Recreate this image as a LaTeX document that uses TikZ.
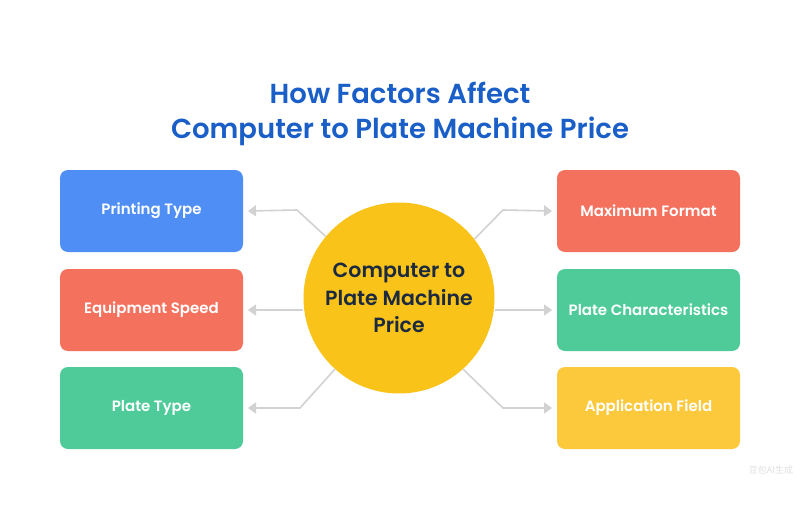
\documentclass[tikz,border=0pt]{standalone}
\usepackage{fontspec}
\setmainfont{Poppins}[BoldFont={* SemiBold}]
\newfontfamily\cjk{Noto Sans CJK SC}
\usetikzlibrary{arrows.meta}
\definecolor{titleblue}{HTML}{1A5FC8}
\definecolor{cblue}{HTML}{4F8FF5}
\definecolor{cred}{HTML}{F4715E}
\definecolor{cgreen}{HTML}{4FCB9A}
\definecolor{cyellow}{HTML}{FCC93C}
\definecolor{circ}{HTML}{F9C31A}
\definecolor{navy}{HTML}{1C2A3F}
\definecolor{conn}{HTML}{D2D2D2}
\tikzset{
  factor/.style={rounded corners=8pt, minimum width=183pt, minimum height=82pt,
    text=white, font=\bfseries\fontsize{15}{17}\selectfont, inner sep=0pt},
  link/.style={draw=conn, line width=1.6pt, -{Triangle[length=8pt,width=11pt]}},
}
\begin{document}
\begin{tikzpicture}[x=1pt,y=-1pt]
\path[use as bounding box, fill=white] (0,0) rectangle (800,530);
\node[text=titleblue, font=\bfseries\fontsize{27.5}{35}\selectfont, align=center] (title) at (400,114)
  {How Factors Affect\\Computer to Plate Machine Price};
\node[factor, fill=cblue] (pt) at (151.5,211) {Printing Type};
\node[factor, fill=cred] (es) at (151.5,310) {Equipment Speed};
\node[factor, fill=cgreen] (pl) at (151.5,408) {Plate Type};
\node[factor, fill=cred] (mf) at (648.5,211) {Maximum Format};
\node[factor, fill=cgreen] (pc) at (648.5,310) {Plate Characteristics};
\node[factor, fill=cyellow] (af) at (648.5,408) {Application Field};
\node[circle, fill=circ, minimum size=191pt, inner sep=0pt, text=navy, align=center,
  font=\bfseries\fontsize{20.5}{27.5}\selectfont] (c) at (399,298) {Computer to\\Plate Machine\\Price};
\coordinate (e1) at (297,210);
\coordinate (e2) at (300,408);
\coordinate (e3) at (503,210);
\coordinate (e4) at (503,408);
\draw[link] (c.140) -- (e1) -- (pt.east -| 248,0);
\draw[link] (c.west |- es.east) -- (es.east -| 248,0);
\draw[link] (c.228) -- (e2) -- (pl.east -| 248,0);
\draw[link] (c.38) -- (e3) -- (mf.west -| 552,0);
\draw[link] (c.east |- pc.west) -- (pc.west -| 552,0);
\draw[link] (c.312) -- (e4) -- (af.west -| 552,0);
\node[text=black!12, font=\cjk\fontsize{9}{10}\selectfont] (wm) at (771,470) {豆包AI生成};
\end{tikzpicture}
\end{document}
